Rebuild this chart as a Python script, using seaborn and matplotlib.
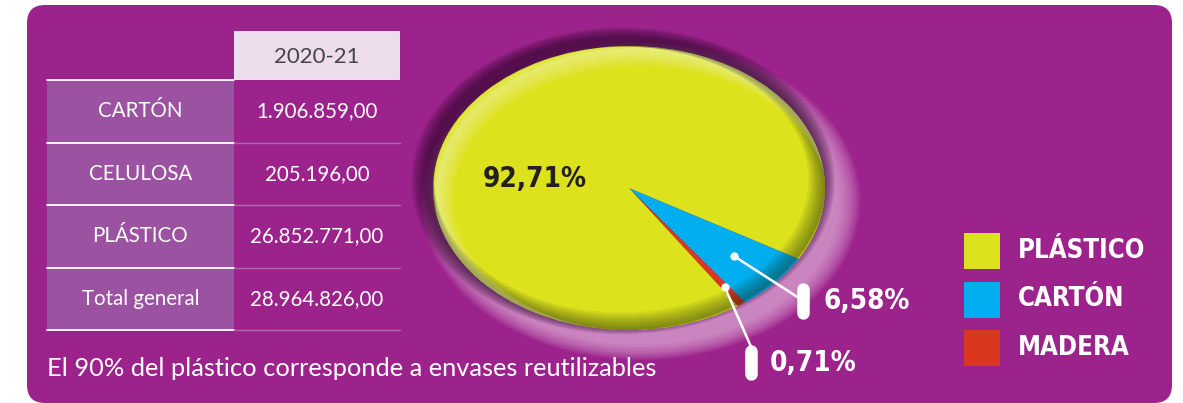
import matplotlib
matplotlib.use("Agg")
import matplotlib.pyplot as plt
from matplotlib.patches import FancyBboxPatch, Rectangle, Ellipse
import numpy as np
import seaborn as sns

# table data
rows = ["CARTÓN", "CELULOSA", "PLÁSTICO", "Total general"]
values_2021 = ["1.906.859,00", "205.196,00", "26.852.771,00", "28.964.826,00"]
year_label = "2020-21"

# pie data
pie_labels = ["CARTÓN", "MADERA", "PLÁSTICO"]
pie_pcts = [6.58, 0.71, 92.71]
legend_order = ["PLÁSTICO", "CARTÓN", "MADERA"]
note = "El 90% del plástico corresponde a envases reutilizables"

PURPLE = "#9c238b"
colors = {"PLÁSTICO": "#dce21c", "CARTÓN": "#00aeef", "MADERA": "#d9381e"}

sns.set_theme(style="white")
plt.rcParams["font.family"] = ["Lato", "DejaVu Sans"]
COND = dict(family="DejaVu Sans", fontstretch="condensed", fontweight="bold")

W, H = 1183, 403
fig = plt.figure(figsize=(W / 100, H / 100), dpi=100)
fig.patch.set_facecolor("white")

# background axes in pixel coords
bg = fig.add_axes([0, 0, 1, 1])
bg.set_xlim(0, W)
bg.set_ylim(H, 0)
bg.axis("off")

bg.add_patch(FancyBboxPatch((27, 5), 1145, 398, boxstyle="round,pad=0,rounding_size=18",
                            fc=PURPLE, ec="none"))

# table
x0, x1, x2 = 47, 234, 400
top, row_h = 80, 62.5
bg.add_patch(Rectangle((x1, 31), x2 - x1, top - 31, fc="#ecdcec", ec="none"))
bg.text((x1 + x2) / 2, 57, year_label, ha="center", va="center", fontsize=16, color="#444444")
for i, (name, val) in enumerate(zip(rows, values_2021)):
    y = top + i * row_h
    bg.add_patch(Rectangle((x0, y), x1 - x0, row_h, fc="#9b52a0", ec="none"))
    bg.text((x0 + x1) / 2, y + row_h / 2, name, ha="center", va="center", fontsize=14.8, color="white")
    bg.text((x1 + x2) / 2, y + row_h / 2, val, ha="center", va="center", fontsize=14.8, color="white")
for i in range(len(rows) + 1):
    y = top + i * row_h
    bg.plot([x0, x1], [y, y], color="white", lw=1.3)
    if i > 0:
        bg.plot([x1, x2], [y, y], color="#b266ac", lw=1)

bg.text(x0, 368, note, ha="left", va="center", fontsize=18.3, color="white")

# legend
for i, lab in enumerate(legend_order):
    yc = 251 + i * 48.5
    bg.add_patch(Rectangle((964, yc - 18), 36, 36, fc=colors[lab], ec="none"))
    bg.text(1018, yc, lab, ha="left", va="center", fontsize=18.5, color="white", **COND)

# pie axes, ellipse centered at (629,188) with semi axes 196 x 142 px
cx, cy, rx, ry = 629, 188, 196, 142
s = 1.3
pax = fig.add_axes([(cx - rx * s) / W, (H - cy - ry * s) / H, 2 * rx * s / W, 2 * ry * s / H])
pax.axis("off")

# soft glow (light bottom-right) and shadow (dark top-left)
for k in range(12, 0, -1):
    g = 1 + 0.01 * k
    pax.add_patch(Ellipse((0.06, -0.09), 2 * g, 2 * g, fc="#e6b8e0", ec="none", alpha=0.09))
for k in range(10, 0, -1):
    g = 1 + 0.008 * k
    pax.add_patch(Ellipse((-0.03, 0.05), 2 * g, 2 * g, fc="#3c0a38", ec="none", alpha=0.12))

wedges, _ = pax.pie(pie_pcts, colors=[colors[l] for l in pie_labels], startangle=-30,
                    counterclock=False, radius=1, wedgeprops=dict(lw=0))
pax.set_aspect("auto")
pax.set_xlim(-s, s)
pax.set_ylim(-s, s)

# bevel: light rim top-left, dark rim bottom-right, clipped to the pie
clip = Ellipse((0, 0), 2, 2, transform=pax.transData)
for k in range(10):
    off = 0.004 * (k + 1)
    e = Ellipse((off * 1.5, -off * 2), 2, 2, fc="none", ec="#fbfbd8", lw=2 + 1.2 * k, alpha=0.07)
    pax.add_patch(e)
    e.set_clip_path(clip)
    d = Ellipse((-off, off * 1.5), 2, 2, fc="none", ec="#1e2a10", lw=2 + 1.2 * k, alpha=0.06)
    pax.add_patch(d)
    d.set_clip_path(clip)

pax.text(-0.48, 0.06, "92,71%", ha="center", va="center", fontsize=20, color="#231f20", **COND)

# leader lines for small wedges: (bar x, bar top y, bar bottom y), dot radius
cum = 0
label_pos = {"CARTÓN": ((0.89, -0.67, -0.92), 0.72), "MADERA": ((0.62, -1.11, -1.35), 0.85)}
for lab, pct in zip(pie_labels, pie_pcts):
    mid = -30 - (cum + pct / 2) * 3.6
    cum += pct
    if lab not in label_pos:
        continue
    (bx, bt, bb), r = label_pos[lab]
    px, py = r * np.cos(np.radians(mid)), r * np.sin(np.radians(mid))
    ly = (bt + bb) / 2 if lab == "CARTÓN" else bt
    pax.plot([px, bx], [py, ly], color="white", lw=1.8, clip_on=False)
    pax.plot(px, py, "o", color="white", ms=5, clip_on=False)
    pax.plot([bx, bx], [bt - 0.04, bb + 0.04], color="white", lw=9, solid_capstyle="round", clip_on=False)
    pax.text(bx + 0.1, (bt + bb) / 2, f"{pct:.2f}%".replace(".", ","), ha="left", va="center",
             fontsize=20, color="white", clip_on=False, **COND)

fig.savefig("out.png", dpi=100, facecolor="white")
